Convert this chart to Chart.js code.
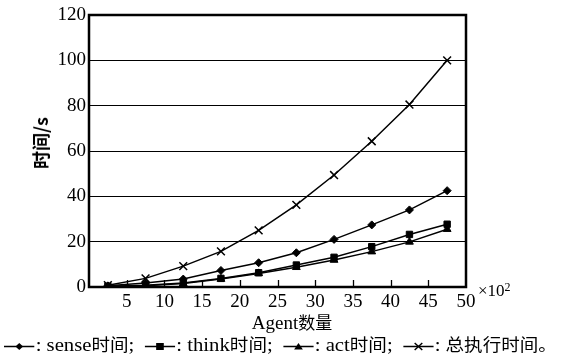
<!DOCTYPE html>
<html>
<head>
<meta charset="utf-8">
<script src="https://cdn.jsdelivr.net/npm/chart.js@4/dist/chart.umd.min.js"></script>
<style>
  html, body { margin:0; padding:0; background:#fff; }
  #wrap { position:relative; width:561px; height:358px; }
  #c { position:absolute; left:0; top:0; }
  .lbl { position:absolute; color:#000; font-family:"Liberation Serif","Noto Sans CJK SC",serif; white-space:nowrap; }
  #ytitle { left:40px; top:143px; font-size:18px; transform:translate(-50%,-50%) rotate(-90deg); font-family:"Noto Sans CJK SC",sans-serif; font-weight:bold; }
  #xtitle { left:292px; top:321px; font-size:19px; transform:translate(-50%,-50%); }
  #xunit { left:478px; top:280px; font-size:17px; }
  #xunit sup { font-size:12px; vertical-align:5px; }
  #legend { left:4px; top:331px; font-size:19px; transform-origin:0 50%; }
  #legend svg { vertical-align:middle; margin-right:1px; }
  .cjk { font-family:"Noto Sans CJK SC",sans-serif; font-size:17px; }
</style>
</head>
<body>
<div id="wrap">
  <canvas id="c" width="561" height="358"></canvas>
  <div class="lbl" id="ytitle">时间/s</div>
  <div class="lbl" id="xtitle">Agent<span class="cjk" style="font-size:17px">数量</span></div>
  <div class="lbl" id="xunit">×10<sup>2</sup></div>
  <div class="lbl" id="legend"></div>
</div>
<script>
// x: agent count (×10^2)
const agents = [2.5, 7.5, 12.5, 17.5, 22.5, 27.5, 32.5, 37.5, 42.5, 47.5];
const senseTime = [0.5, 1.8, 3.5, 7.3, 10.7, 15.1, 21.0, 27.4, 34.0, 42.5];
const thinkTime = [0.3, 0.8, 1.8, 3.8, 6.3, 9.7, 13.1, 17.8, 23.2, 27.7];
const actTime   = [0.2, 0.6, 1.5, 3.5, 6.0, 8.7, 11.9, 15.6, 19.9, 25.5];
const totalTime = [0.8, 3.8, 9.2, 15.7, 25.0, 36.2, 49.4, 64.3, 80.5, 100.0];
const seriesNames = ['sense时间', 'think时间', 'act时间', '总执行时间'];
const xTicks = [0, 5, 10, 15, 20, 25, 30, 35, 40, 45, 50];
const yTicks = [0, 20, 40, 60, 80, 100, 120];

const pts = ys => ys.map((y, i) => ({ x: agents[i], y }));

const styles = [
  { pointStyle:'rectRot', radius:4 },
  { pointStyle:'rect',    radius:4.5 },
  { pointStyle:'triangle',radius:4.5 },
  { pointStyle:'crossRot',radius:5.5 },
];
const series = [senseTime, thinkTime, actTime, totalTime];

const datasets = series.map((s, i) => ({
  label: seriesNames[i],
  data: pts(s),
  borderColor:'#000', backgroundColor:'#000',
  borderWidth:1.5, tension:0,
  pointStyle: styles[i].pointStyle, pointRadius: styles[i].radius,
  pointBorderWidth: i === 3 ? 1.5 : 1,
  pointBorderColor:'#000', pointBackgroundColor:'#000'
}));

// frame + inward x tick marks
const framePlugin = {
  id:'frame',
  afterDatasetsDraw(chart) {
    const { ctx, chartArea:a, scales } = chart;
    ctx.save();
    ctx.strokeStyle = '#000';
    ctx.lineWidth = 1.3;
    xTicks.slice(1, -1).forEach(v => {
      const x = Math.round(scales.x.getPixelForValue(v)) + 0.5;
      ctx.beginPath(); ctx.moveTo(x, a.bottom); ctx.lineTo(x, a.bottom - 7); ctx.stroke();
    });
    ctx.lineWidth = 2.5;
    ctx.strokeRect(a.left, a.top, a.right - a.left, a.bottom - a.top);
    ctx.restore();
  }
};

new Chart(document.getElementById('c'), {
  type:'line',
  data:{ datasets },
  options:{
    responsive:false, animation:false,
    layout:{ padding:{ left:0, right:95, top:15, bottom:49 } },
    plugins:{ legend:{ display:false }, tooltip:{ enabled:false } },
    scales:{
      x:{
        type:'linear', min:0, max:50,
        afterBuildTicks: s => { s.ticks = xTicks.map(v => ({ value:v })); },
        afterFit: s => { s.height = 22; },
        grid:{ display:false, drawTicks:false },
        border:{ display:false },
        ticks:{ color:'#000', padding:4, font:{ family:'Liberation Serif', size:19 },
                callback: v => v === 0 ? '' : v }
      },
      y:{
        min:0, max:120,
        afterBuildTicks: s => { s.ticks = yTicks.map(v => ({ value:v })); },
        afterFit: s => { s.width = 89; },
        grid:{ color:'#000', lineWidth:1, drawTicks:false },
        border:{ display:false },
        ticks:{ color:'#000', padding:3, font:{ family:'Liberation Serif', size:19 } }
      }
    }
  },
  plugins:[framePlugin]
});

// legend: line + marker sample, then ": name;"
function glyph(i) {
  const m = [
    '<path d="M14 3 L17.5 6.5 L14 10 L10.5 6.5 Z" fill="#000"/>',
    '<rect x="10.5" y="3" width="7" height="7" fill="#000"/>',
    '<path d="M14 3 L18 9.5 L10 9.5 Z" fill="#000"/>',
    '<path d="M10.5 3 L17.5 10 M17.5 3 L10.5 10" stroke="#000" stroke-width="1.3"/>'
  ][i];
  return `<svg width="28" height="13"><line x1="0" y1="6.5" x2="28" y2="6.5" stroke="#000" stroke-width="1.5"/>${m}</svg>`;
}
const legend = document.getElementById('legend');
legend.innerHTML = seriesNames.map((n, i) => {
  const m = n.match(/^([a-z]*)(.*)$/);
  return glyph(i) + ': ' + m[1] + '<span class="cjk">' + m[2] + (i < 3 ? '</span>;' : '。</span>') + (i < 3 ? '&nbsp;&nbsp;' : '');
}).join('');
legend.style.transform = `scaleX(${553 / legend.offsetWidth})`;
</script>
</body>
</html>
